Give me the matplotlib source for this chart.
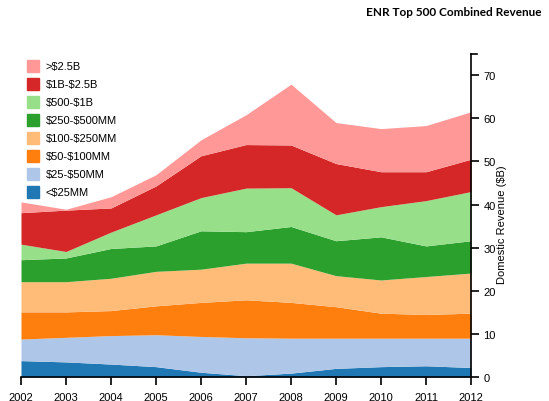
import matplotlib
matplotlib.use("Agg")
import matplotlib.pyplot as plt
import numpy as np

years = [2002, 2003, 2004, 2005, 2006, 2007, 2008, 2009, 2010, 2011, 2012]
labels = ["<$25MM", "$25-$50MM", "$50-$100MM", "$100-$250MM",
          "$250-$500MM", "$500-$1B", "$1B-$2.5B", ">$2.5B"]
colors = ["#1f77b4", "#aec7e8", "#ff7f0e", "#ffbb78",
          "#2ca02c", "#98df8a", "#d62728", "#ff9896"]

# revenue ($B) per size class, bottom to top
lt25 = [3.8, 3.5, 3.0, 2.4, 1.1, 0.3, 0.9, 2.0, 2.4, 2.6, 2.2]
r25_50 = [5.0, 5.7, 6.6, 7.4, 8.3, 8.8, 8.1, 7.0, 6.6, 6.4, 6.8]
r50_100 = [6.3, 5.9, 5.8, 6.7, 7.9, 8.8, 8.3, 7.3, 5.8, 5.5, 5.8]
r100_250 = [7.0, 7.0, 7.5, 8.0, 7.7, 8.5, 9.1, 7.2, 7.7, 8.8, 9.3]
r250_500 = [5.1, 5.5, 6.9, 5.9, 8.9, 7.3, 8.5, 8.1, 10.0, 7.1, 7.5]
r500_1b = [3.6, 1.5, 3.8, 7.2, 7.7, 10.1, 9.0, 6.0, 7.0, 10.5, 11.4]
r1b_25b = [7.3, 9.6, 5.6, 6.7, 9.7, 10.1, 9.9, 11.9, 8.1, 6.7, 7.5]
gt25b = [2.5, 0.2, 2.6, 2.6, 3.7, 6.9, 14.1, 9.5, 10.0, 10.7, 11.0]

series = [lt25, r25_50, r50_100, r100_250, r250_500, r500_1b, r1b_25b, gt25b]

plt.rcParams['font.family'] = ['Liberation Sans', 'DejaVu Sans']
plt.rcParams['text.parse_math'] = False

fig = plt.figure(figsize=(5.49, 4.02), dpi=100)
ax = fig.add_axes([21 / 549, 1 - 378 / 402, 450 / 549, (378 - 55) / 402])

base = np.zeros(len(years))
for vals, col in zip(series, colors):
    top = base + np.array(vals)
    ax.fill_between(years, base, top, color=col, lw=0)
    base = top

ax.set_xlim(2002, 2012)
ax.set_ylim(0, 74.9)
ax.set_xticks(years)
ax.set_yticks(range(0, 71, 10))

for s in ["top", "left"]:
    ax.spines[s].set_visible(False)
ax.spines["right"].set_linewidth(1.2)
ax.spines["bottom"].set_linewidth(1.2)
ax.yaxis.tick_right()
ax.tick_params(axis="both", length=6, width=1.2, labelsize=8, pad=3, direction="out")
ax.tick_params(axis="x", pad=5)
# outer end tick at top of the y axis, like d3
ax.plot([1, 1 + 6 / 450], [1, 1], transform=ax.transAxes, color="black",
        lw=1.2, clip_on=False)

fig.text(502 / 549, 1 - 225 / 402, "Domestic Revenue ($B)", rotation=90,
         ha="center", va="center", fontsize=8)

fig.text(541 / 549, 1 - 12 / 402, "ENR Top 500 Combined Revenue",
         ha="right", va="center", fontsize=8.5, fontweight="bold",
         family=["Lato", "DejaVu Sans"])

# legend, top entry first
for i, (lab, col) in enumerate(zip(labels[::-1], colors[::-1])):
    y = 67 + i * 18
    fig.patches.append(plt.Rectangle((27 / 549, 1 - (y + 6) / 402), 12 / 549, 12 / 402,
                                     transform=fig.transFigure, color=col))
    fig.text(46 / 549, 1 - y / 402, lab, ha="left", va="center", fontsize=8)

fig.savefig("out.png", dpi=100)
